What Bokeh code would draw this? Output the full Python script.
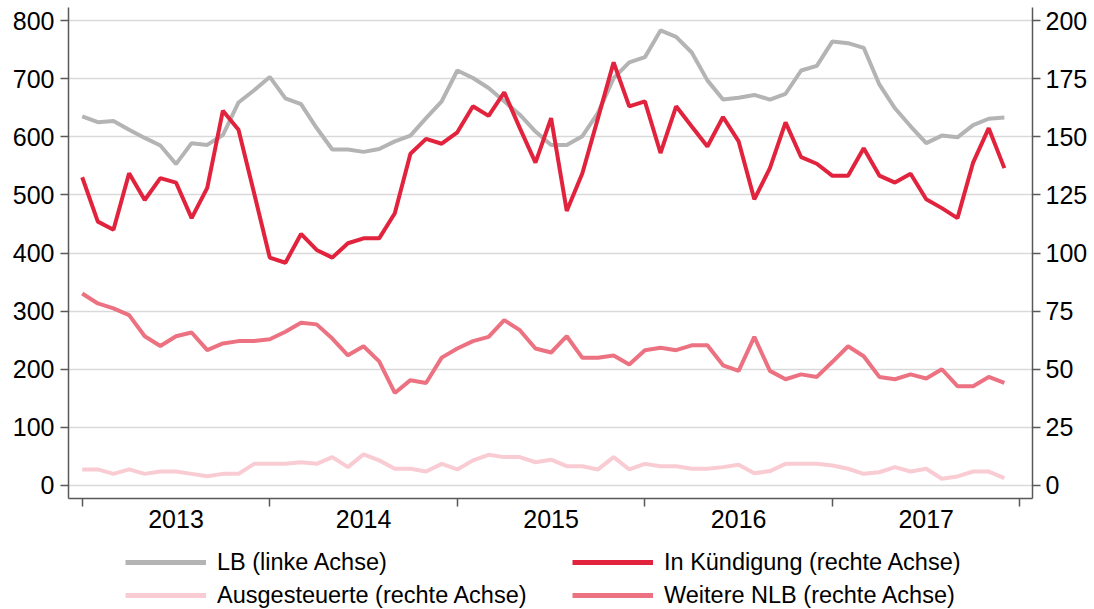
from bokeh.plotting import figure
from bokeh.layouts import column
from bokeh.models import Range1d, LinearAxis, FixedTicker, Legend, LegendItem
from bokeh.embed import file_html
from bokeh.resources import INLINE

# ---- data (monthly, Jan 2013 .. Dec 2017) ----
years = ["2013", "2014", "2015", "2016", "2017"]
months = list(range(60))  # month index from Jan 2013

lb = [635, 625, 627, 612, 598, 585, 553, 589, 586, 603, 659, 680,
      703, 666, 656, 615, 578, 578, 574, 579, 592, 602, 632, 661,
      714, 701, 684, 661, 638, 609, 586, 586, 601, 641, 701, 728,
      737, 783, 772, 745, 697, 664, 667, 672, 664, 674, 714, 722,
      764, 761, 753, 690, 649, 618, 589, 602, 599, 620, 631, 633]

kuendigung = [132.6, 113.5, 110.0, 134.3, 122.8, 132.2, 130.3, 115.0, 128.0, 161.2, 153.0, 125.7,
              98.0, 95.8, 108.2, 101.3, 98.0, 104.2, 106.3, 106.3, 117.1, 142.7, 149.1, 147.0,
              151.9, 163.1, 159.0, 169.1, 153.7, 138.9, 158.0, 118.1, 134.3, 158.0, 182.0, 163.1,
              165.2, 143.0, 163.1, 154.4, 145.8, 158.5, 148.0, 123.1, 136.5, 156.2, 141.2, 138.4,
              133.2, 133.2, 145.1, 133.3, 130.3, 134.1, 123.1, 119.3, 115.0, 138.9, 153.7, 136.5]

ausgesteuerte = [6.9, 6.9, 5.0, 6.9, 5.0, 6.0, 6.0, 5.0, 4.0, 5.0, 5.0, 9.3,
                 9.3, 9.3, 10.0, 9.3, 12.2, 7.9, 13.4, 10.8, 7.2, 7.2, 6.0, 9.3,
                 6.9, 10.8, 13.2, 12.2, 12.2, 10.0, 11.1, 8.3, 8.3, 6.9, 12.2, 6.9,
                 9.3, 8.3, 8.3, 7.2, 7.2, 7.9, 8.9, 5.3, 6.2, 9.3, 9.3, 9.3,
                 8.6, 7.2, 5.0, 5.7, 7.9, 6.0, 7.2, 2.9, 3.9, 6.0, 6.0, 3.2]

weitere = [82.6, 78.3, 76.2, 73.3, 64.2, 60.0, 64.2, 65.8, 58.2, 61.1, 62.1, 62.1,
           62.9, 66.1, 70.0, 69.3, 63.2, 56.0, 59.9, 53.4, 39.8, 45.3, 44.1, 55.0,
           58.9, 62.1, 63.9, 71.1, 66.8, 58.9, 57.2, 64.2, 54.9, 54.9, 55.9, 52.0,
           58.2, 59.2, 58.2, 60.3, 60.3, 51.7, 49.3, 63.9, 49.3, 45.7, 47.8, 46.7,
           53.2, 59.9, 55.6, 46.7, 45.7, 47.8, 46.0, 50.0, 42.7, 42.7, 46.7, 44.1]

series_labels = ["LB (linke Achse)", "In Kündigung (rechte Achse)",
                 "Ausgesteuerte (rechte Achse)", "Weitere NLB (rechte Achse)"]

left_ticks = [0, 100, 200, 300, 400, 500, 600, 700, 800]
right_ticks = [0, 25, 50, 75, 100, 125, 150, 175, 200]

FONT = "Liberation Sans"
AXIS_COLOR = "#595959"
C_LB, C_KUE, C_AUS, C_WEI = "#b4b4b4", "#e2233d", "#f9ccd3", "#ec7282"

p = figure(width=1094, height=540, output_backend="svg", toolbar_location=None,
           x_range=Range1d(-0.877, 60.8), y_range=Range1d(-22.4, 822.4),
           min_border_left=68, min_border_right=62, min_border_top=7,
           min_border_bottom=42)
p.outline_line_color = None
p.background_fill_color = "white"
p.border_fill_color = "white"

p.extra_y_ranges = {"right": Range1d(-5.6, 205.6)}

# left axis
ya = p.yaxis[0]
ya.ticker = FixedTicker(ticks=left_ticks)
ya.minor_tick_line_color = None
ya.major_tick_in = 0
ya.major_tick_out = 8
ya.major_label_standoff = 6
ya.axis_line_color = AXIS_COLOR
ya.axis_line_width = 1.5
ya.major_tick_line_color = AXIS_COLOR
ya.major_tick_line_width = 1.5
ya.major_label_text_font = FONT
ya.major_label_text_font_size = "25px"
ya.major_label_text_color = "black"

# right axis
ra = LinearAxis(y_range_name="right", ticker=FixedTicker(ticks=right_ticks))
ra.minor_tick_line_color = None
ra.major_tick_in = 0
ra.major_tick_out = 8
ra.major_label_standoff = 5
ra.axis_line_color = AXIS_COLOR
ra.axis_line_width = 1.5
ra.major_tick_line_color = AXIS_COLOR
ra.major_tick_line_width = 1.5
ra.major_label_text_font = FONT
ra.major_label_text_font_size = "25px"
ra.major_label_text_color = "black"
p.add_layout(ra, "right")

# bottom axis: year labels between year-boundary ticks
xa = p.xaxis[0]
xa.ticker = FixedTicker(ticks=[6, 18, 30, 42, 54], minor_ticks=[0, 12, 24, 36, 48, 60])
xa.major_label_overrides = {6 + 12 * i: y for i, y in enumerate(years)}
xa.major_tick_line_color = None
xa.major_tick_out = 0
xa.major_tick_in = 0
xa.minor_tick_in = 0
xa.minor_tick_out = 8
xa.minor_tick_line_color = AXIS_COLOR
xa.minor_tick_line_width = 1.5
xa.axis_line_color = AXIS_COLOR
xa.axis_line_width = 1.5
xa.major_label_standoff = 3
xa.major_label_text_font = FONT
xa.major_label_text_font_size = "25px"
xa.major_label_text_color = "black"

p.xgrid.visible = False
p.ygrid.ticker = FixedTicker(ticks=left_ticks)
p.ygrid.grid_line_color = "#d9d9d9"
p.ygrid.grid_line_width = 1.5

p.line(months, lb, color=C_LB, line_width=4)
p.line(months, ausgesteuerte, y_range_name="right", color=C_AUS, line_width=4)
p.line(months, weitere, y_range_name="right", color=C_WEI, line_width=4)
p.line(months, kuendigung, y_range_name="right", color=C_KUE, line_width=4)

# ---- legend strip (separate figure so the legend sits below the axis) ----
lg = figure(width=1094, height=69, output_backend="svg", toolbar_location=None,
            x_axis_location=None, y_axis_location=None,
            x_range=Range1d(0, 1), y_range=Range1d(0, 1),
            min_border_left=0, min_border_right=0, min_border_top=0, min_border_bottom=0)
lg.outline_line_color = None
lg.xgrid.visible = False
lg.ygrid.visible = False
lg.border_fill_color = "white"

# legend-only renderers (placed outside the visible range)
g_lb = lg.line([5, 6], [5, 6], color=C_LB, line_width=5)
g_kue = lg.line([5, 6], [5, 6], color=C_KUE, line_width=5)
g_aus = lg.line([5, 6], [5, 6], color=C_AUS, line_width=5)
g_wei = lg.line([5, 6], [5, 6], color=C_WEI, line_width=5)

common = dict(glyph_width=81, glyph_height=28, label_height=28, label_standoff=11,
              spacing=5, padding=0, margin=0, border_line_color=None,
              background_fill_alpha=0, label_text_font=FONT,
              label_text_font_size="23.5px", label_text_color="black")
leg1 = Legend(items=[LegendItem(label=series_labels[0], renderers=[g_lb]),
                     LegendItem(label=series_labels[2], renderers=[g_aus])],
              location=(57, 0), **common)
leg2 = Legend(items=[LegendItem(label=series_labels[1], renderers=[g_kue]),
                     LegendItem(label=series_labels[3], renderers=[g_wei])],
              location=(504, 0), **common)
lg.add_layout(leg1)
lg.add_layout(leg2)

layout = column(p, lg, spacing=0)

open("out.html", "w").write(file_html(layout, INLINE))
